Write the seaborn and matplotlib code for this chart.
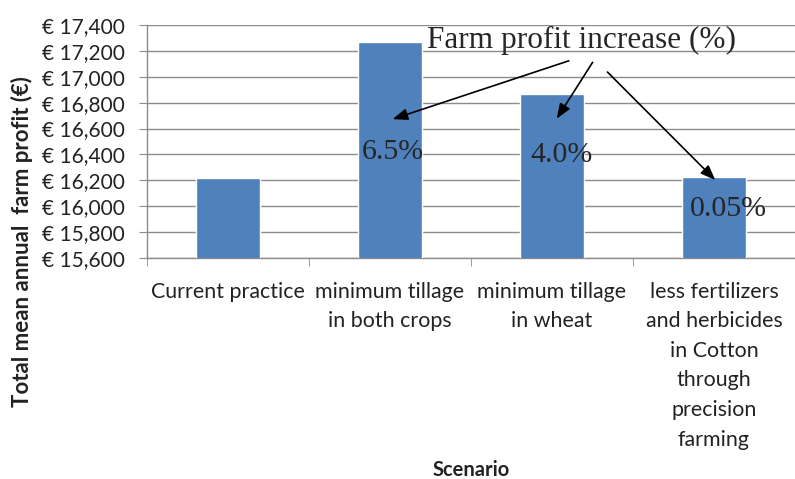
"""Total mean annual farm profit by scenario."""

import matplotlib
matplotlib.use("Agg")
import matplotlib.pyplot as plt
import matplotlib.ticker as mticker
import seaborn as sns

scenarios = [
    "Current practice",
    "minimum tillage\nin both crops",
    "minimum tillage\nin wheat",
    "less fertilizers\nand herbicides\nin Cotton\nthrough\nprecision\nfarming",
]
profits = [16215, 17270, 16865, 16222]
increase_labels = ["6.5%", "4.0%", "0.05%"]

BAR_COLOR = "#4F81BD"
GRID_COLOR = "#8C8C8C"
TEXT_COLOR = "#222222"

sns.set_style("white")
plt.rcParams["font.family"] = ["Lato", "DejaVu Sans"]

fig = plt.figure(figsize=(7.95, 4.79), dpi=100)
ax = fig.add_axes([147 / 795, 1 - 258 / 479, 1 - 147 / 795, (258 - 25) / 479])

sns.barplot(x=scenarios, y=profits, color=BAR_COLOR, saturation=1,
            width=0.39, ax=ax, zorder=3)

ax.set_ylim(15600, 17400)
ax.set_xlim(-0.5, 3.5)
ax.yaxis.set_major_locator(mticker.MultipleLocator(200))
ax.yaxis.set_major_formatter(mticker.FuncFormatter(lambda v, p: f"€ {v:,.0f}"))
ax.grid(axis="y", color=GRID_COLOR, linewidth=1, zorder=0)
ax.set_axisbelow(True)

for side in ["top", "right"]:
    ax.spines[side].set_visible(False)
for side in ["left", "bottom"]:
    ax.spines[side].set_color(GRID_COLOR)
    ax.spines[side].set_linewidth(1)

ax.tick_params(axis="y", length=6, color=GRID_COLOR, labelsize=15,
               labelcolor=TEXT_COLOR, pad=10, left=True)
ax.tick_params(axis="x", which="major", length=0, labelsize=15.4,
               labelcolor=TEXT_COLOR, pad=17)
ax.set_xticks([-0.5, 0.5, 1.5, 2.5, 3.5], minor=True)
ax.tick_params(axis="x", which="minor", length=6, color=GRID_COLOR,
               bottom=True)
for lab in ax.get_xticklabels():
    lab.set_linespacing(1.6)
    lab.set_verticalalignment("top")

ax.set_xlabel("")
ax.set_ylabel("")
fig.text(22 / 795, 1 - 242 / 479, "Total mean annual  farm profit (€)",
         rotation=90, ha="center", va="center", fontsize=16,
         fontweight="bold", color=TEXT_COLOR)
fig.text(471 / 795, 1 - 470 / 479, "Scenario", ha="center", va="center",
         fontsize=14.5, fontweight="bold", color=TEXT_COLOR)

# callout text and arrows
serif = ["Liberation Serif", "DejaVu Serif"]
ax.text(2.18, 17280, "Farm profit increase (%)", ha="center", va="center",
        fontsize=22.5, family=serif, zorder=5)
arrow_kw = dict(arrowstyle="-|>,head_length=0.9,head_width=0.35",
                color="black", lw=1.2)
starts = [(2.12, 17130), (2.26, 17130), (2.33, 17052)]
ends = [(1.0, 16666), (2.02, 16658), (3.02, 16187)]
for s, e in zip(starts, ends):
    ax.annotate("", xy=e, xytext=s, arrowprops=arrow_kw, zorder=5)

label_pos = [(1.02, 16420), (2.06, 16398), (3.09, 15975)]
for (lx, ly), txt in zip(label_pos, increase_labels):
    ax.text(lx, ly, txt, ha="center", va="center", fontsize=21.5,
            family=serif, zorder=5)

fig.savefig("out.png", dpi=100)
plt.close(fig)
